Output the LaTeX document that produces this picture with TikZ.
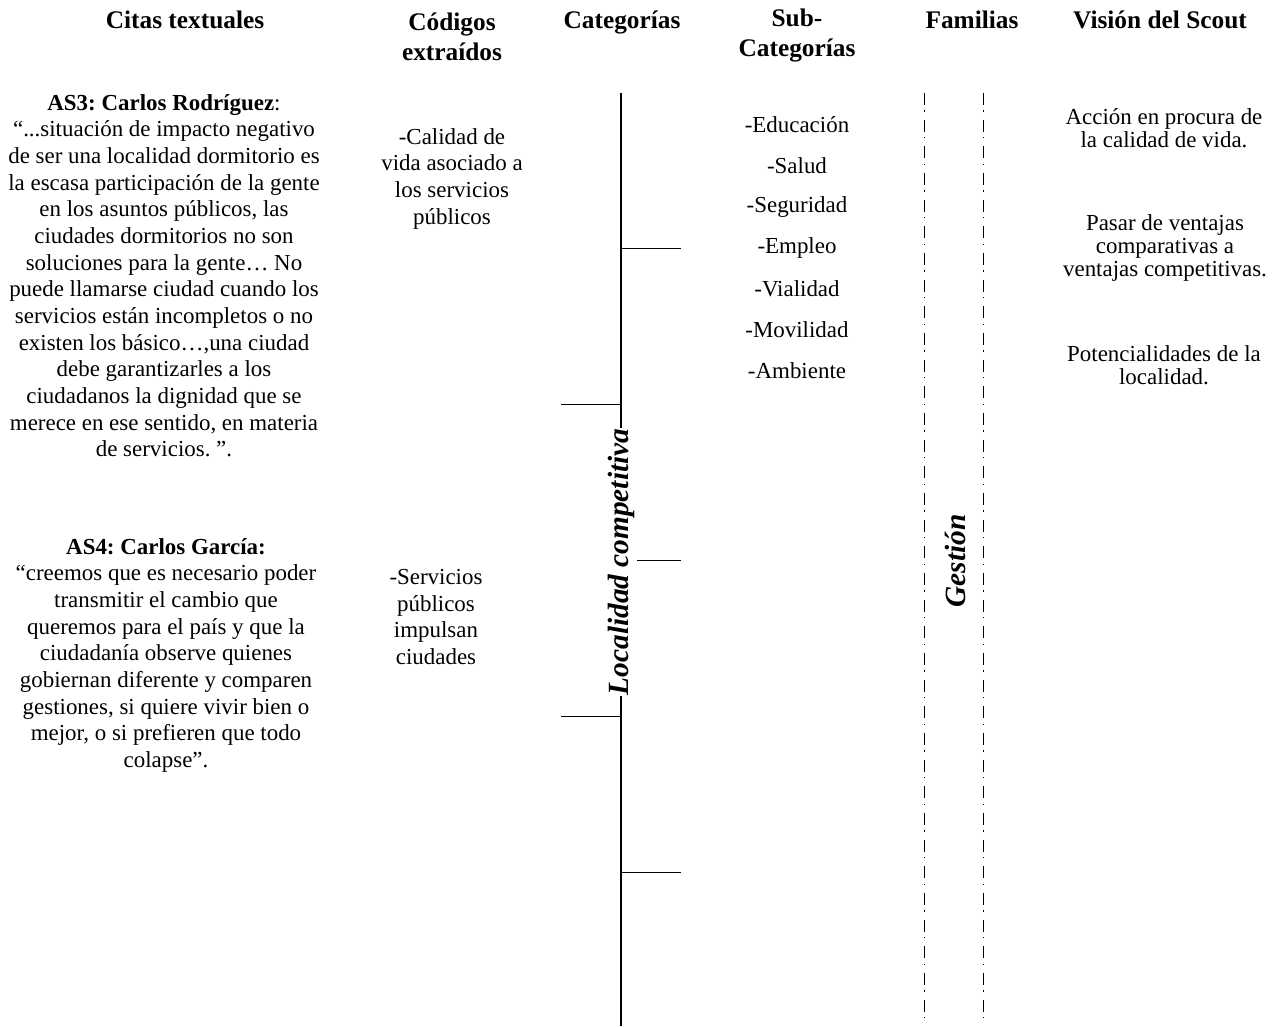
\documentclass[tikz,border=0pt]{standalone}
\usepackage{fontspec}
\setmainfont{Liberation Serif}
\usepackage{tikz}
\frenchspacing

\begin{document}
\begin{tikzpicture}[x=0.75pt,y=0.75pt,yscale=-1,xscale=1,
  hdr/.style={font=\fontsize{19}{22}\selectfont\bfseries, align=center, inner sep=0.75pt},
  txt/.style={font=\fontsize{17.2}{20}\selectfont, align=center, inner sep=0.75pt},
  vis/.style={font=\fontsize{17.2}{17.5}\selectfont, align=center, inner sep=0.75pt},
  lbl/.style={font=\fontsize{22}{24}\selectfont\bfseries\itshape, inner sep=0.75pt},
  spine/.style={line width=1pt},
  tick/.style={line width=0.75pt},
  fam/.style={line width=0.75pt, dash pattern=on 9pt off 4pt on 1pt off 6pt}]
\useasboundingbox (0,0) rectangle (1282,1026);

% Headers
\node[hdr, anchor=north] (h1) at (185,10) {Citas textuales};
\node[hdr, anchor=north] (h2) at (452,12) {Códigos\\extraídos};
\node[hdr, anchor=north] (h3) at (622,10) {Categorías};
\node[hdr, anchor=north] (h4) at (797,8) {Sub-\\Categorías};
\node[hdr, anchor=north] (h5) at (972,10) {Familias};
\node[hdr, anchor=north] (h6) at (1160,10) {Visión del Scout};

% Text Node
\node[txt, anchor=north] (as3) at (164,93) {\textbf{AS3: Carlos Rodríguez}:\\
“...situación de impacto negativo\\
de ser una localidad dormitorio  es\\
la escasa participación de la gente\\
en los asuntos públicos, las\\
ciudades dormitorios no son\\
soluciones para la gente… No\\
puede llamarse ciudad cuando los\\
servicios están incompletos o no\\
existen los básico…,una ciudad\\
debe garantizarles a los\\
ciudadanos la dignidad que se\\
merece en ese sentido, en materia\\
de servicios. ”.};
% Text Node
\node[txt, anchor=north] (as4) at (166,537) {\textbf{AS4: Carlos García:}\\
“creemos que es necesario poder\\
transmitir el cambio que\\
queremos para el país y que la\\
ciudadanía observe quienes\\
gobiernan diferente y comparen\\
gestiones, si quiere vivir bien o\\
mejor, o si prefieren que todo\\
colapse”.};

% Text Node
\node[txt, anchor=north] (cod1) at (452,127) {-Calidad de\\vida asociado a\\los servicios\\públicos};
% Text Node
\node[txt, anchor=north] (cod2) at (436,568) {-Servicios\\públicos\\impulsan\\ciudades};

% Text Node
\node[txt] (sub1) at (797,125) {-Educación};
\node[txt] (sub2) at (797,166) {-Salud};
\node[txt] (sub3) at (797,207) {-Seguridad};
\node[txt] (sub4) at (797,248) {-Empleo};
\node[txt] (sub5) at (797,289) {-Vialidad};
\node[txt] (sub6) at (797,330) {-Movilidad};
\node[txt] (sub7) at (797,371) {-Ambiente};

% Text Node
\node[vis, anchor=north] (vis1) at (1164,107) {Acción en procura de\\la calidad de vida.};
\node[vis, anchor=north] (vis2) at (1165,213) {Pasar de ventajas\\comparativas a\\ventajas competitivas.};
\node[vis, anchor=north] (vis3) at (1164,344) {Potencialidades de la\\localidad.};

%Straight Lines
\coordinate (ctop) at (621,93);
\coordinate (cbot) at (621,1026);
\draw[spine] (ctop) -- (cbot);
\coordinate (c1) at (621,248); \coordinate (e1) at (681,248);
\coordinate (c2) at (621,404); \coordinate (e2) at (561,404);
\coordinate (c3) at (637,560); \coordinate (e3) at (681,560);
\coordinate (c4) at (621,716); \coordinate (e4) at (561,716);
\coordinate (c5) at (621,872); \coordinate (e5) at (681,872);
\draw[tick] (c1) -- (e1);
\draw[tick] (c2) -- (e2);
\draw[tick] (c3) -- (e3);
\draw[tick] (c4) -- (e4);
\draw[tick] (c5) -- (e5);
% Text Node
\node[lbl, rotate=90, fill=white] (cat) at (621,562) {Localidad competitiva};

%Dash Dot Lines
\coordinate (f1top) at (924,93); \coordinate (f1bot) at (924,1026);
\coordinate (f2top) at (983,93); \coordinate (f2bot) at (983,1026);
\draw[fam] (f1top) -- (f1bot);
\draw[fam] (f2top) -- (f2bot);
% Text Node
\node[lbl, rotate=90] (gest) at (955,561) {Gestión};

\end{tikzpicture}
\end{document}
